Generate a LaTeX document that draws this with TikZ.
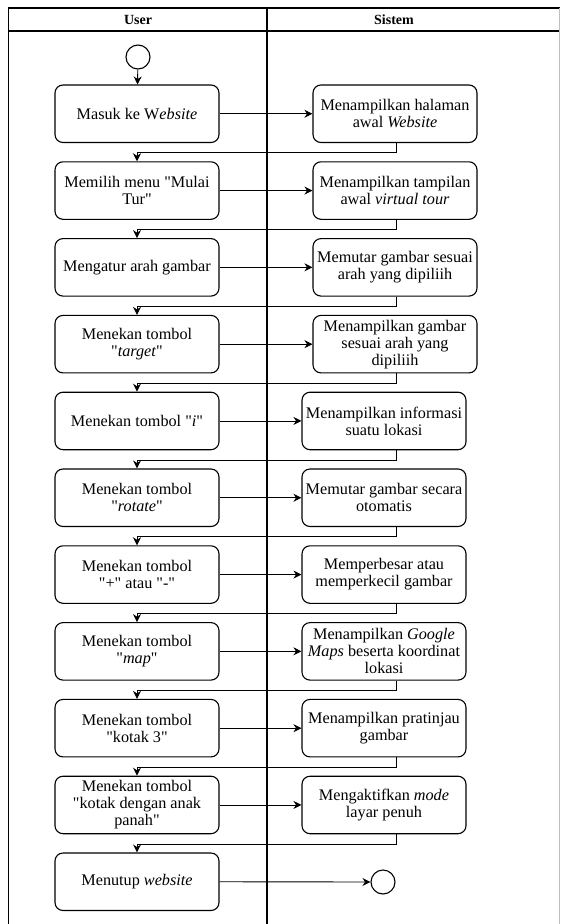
\documentclass[tikz,border=0pt]{standalone}
\usepackage{fontspec}
\setmainfont{Liberation Serif}[Ligatures=TeXOff]
\usetikzlibrary{arrows.meta,calc}
\newcommand\dq{\symbol{34}}
\begin{document}
\begin{tikzpicture}[x=1pt,y=-1pt,
  act/.style={draw, line width=1.1pt, rounded corners=8pt, minimum width=164pt, minimum height=57.5pt, inner sep=0pt, align=center, font=\fontsize{16.2}{17}\selectfont},
  hdr/.style={font=\fontsize{14}{16}\selectfont\bfseries},
  lane/.style={line width=1.1pt},
  arr/.style={line width=0.9pt, -{Stealth[length=8pt,width=8pt]}},
  endpt/.style={circle, draw, line width=1.1pt, minimum size=24pt, inner sep=0pt}]
\useasboundingbox (0,0) rectangle (560,924);
% swimlane frame
\draw[lane] (8.5,924) -- (8.5,8) -- (560,8);
\draw[lane] (8.5,31) -- (560,31);
\draw[lane] (267,8) -- (267,924);
\draw[line width=0.6pt, black!25] (559,8) -- (559,924);
\node[hdr] (hu) at (138,19.5) {User};
\node[hdr] (hs) at (394,19.5) {Sistem};
\coordinate (col) at (396,0);
% start
\node[endpt] (start) at (138,57) {};
% left column
\node[act] (l1) at (137,113.75) {Masuk ke W\textit{ebsite}};
\node[act] (l2) at (137,190.55) {Memilih menu \dq Mulai\\Tur\dq};
\node[act] (l3) at (137,267.35) {Mengatur arah gambar};
\node[act] (l4) at (137,344.15) {Menekan tombol\\\dq\textit{target}\dq};
\node[act] (l5) at (137,420.95) {Menekan tombol \dq\textit{i}\dq};
\node[act] (l6) at (137,497.75) {Menekan tombol\\\dq\textit{rotate}\dq};
\node[act] (l7) at (137,574.55) {Menekan tombol\\\dq+\dq{} atau \dq-\dq};
\node[act] (l8) at (137,651.35) {Menekan tombol\\\dq\textit{map}\dq};
\node[act] (l9) at (137,728.15) {Menekan tombol\\\dq kotak 3\dq};
\node[act] (l10) at (137,804.95) {Menekan tombol\\\dq kotak dengan anak\\panah\dq};
\node[act] (l11) at (137,881.75) {Menutup \textit{website}};
% right column
\node[act] (r1) at (395,113.75) {Menampilkan halaman\\awal \textit{Website}};
\node[act] (r2) at (395,190.55) {Menampilkan tampilan\\awal \textit{virtual tour}};
\node[act] (r3) at (395,267.35) {Memutar gambar sesuai\\arah yang dipiliih};
\node[act] (r4) at (395,344.15) {Menampilkan gambar\\sesuai arah yang\\dipiliih};
\node[act] (r5) at (384,420.95) {Menampilkan informasi\\suatu lokasi};
\node[act] (r6) at (384,497.75) {Memutar gambar secara\\otomatis};
\node[act] (r7) at (384,574.55) {Memperbesar atau\\memperkecil gambar};
\node[act] (r8) at (384,651.35) {Menampilkan \textit{Google}\\\textit{Maps} beserta koordinat\\lokasi};
\node[act] (r9) at (384,728.15) {Menampilkan pratinjau\\gambar};
\node[act] (r10) at (384,804.95) {Mengaktifkan \textit{mode}\\layar penuh};
% end
\node[endpt] (end) at (383,882) {};
% connectors
\draw[arr] (start) -- (l1);
\foreach \i in {1,...,10} {
  \draw[arr] (l\i.east) -- (r\i.west |- l\i.east);
}
\foreach \i/\j in {1/2,2/3,3/4,4/5,5/6,6/7,7/8,8/9,9/10,10/11} {
  \draw[arr] (r\i.south -| col) -- ++(0,9.7) -| (l\j.north);
}
\draw[arr] (l11.east) -- (end.west);
\end{tikzpicture}
\end{document}
